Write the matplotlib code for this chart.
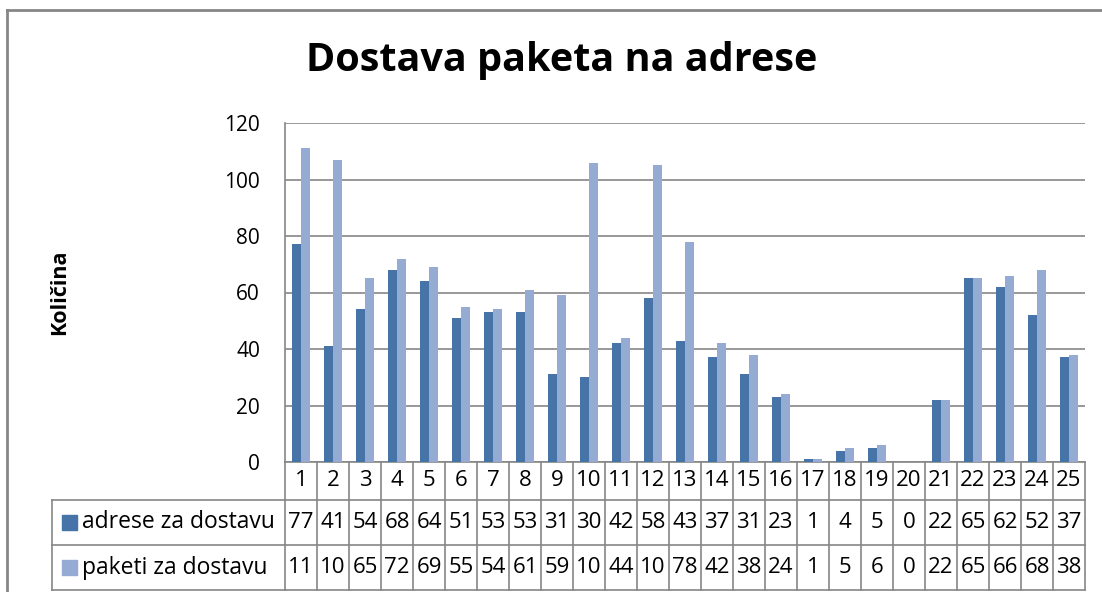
import matplotlib.pyplot as plt
import matplotlib.transforms as mtransforms
from matplotlib.patches import Rectangle
from matplotlib.lines import Line2D
import numpy as np

plt.rcParams['font.family'] = ['Open Sans', 'DejaVu Sans']

# data
categories = [str(i) for i in range(1, 26)]
adrese = [77, 41, 54, 68, 64, 51, 53, 53, 31, 30, 42, 58, 43, 37, 31, 23, 1, 4, 5, 0, 22, 65, 62, 52, 37]
paketi = [111, 107, 65, 72, 69, 55, 54, 61, 59, 106, 44, 105, 78, 42, 38, 24, 1, 5, 6, 0, 22, 65, 66, 68, 38]
series_names = ['adrese za dostavu', 'paketi za dostavu']
title = 'Dostava paketa na adrese'
ylabel = 'Količina'

dark = '#4673a8'
light = '#95abd3'
grid_col = '#868686'

fig = plt.figure(figsize=(11.02, 5.92), dpi=100)
W, H = 1102, 592

def fx(px):
    return px / W

def fy(py):
    return 1 - py / H

# outer chart frame (top and left edges)
fig.add_artist(Line2D([fx(7), fx(7)], [fy(10), 0], color=grid_col, lw=2))
fig.add_artist(Line2D([fx(7), 1], [fy(10), fy(10)], color=grid_col, lw=2))

left, right, top, bottom = 285, 1085, 123, 462
ax = fig.add_axes([fx(left), fy(bottom), fx(right - left), (bottom - top) / H])

x = np.arange(len(categories))
w = 0.29
ax.bar(x - w / 2, adrese, w, color=dark, zorder=3)
ax.bar(x + w / 2, paketi, w, color=light, zorder=3)

ax.set_xlim(-0.5, len(categories) - 0.5)
ax.set_ylim(0, 120)
ax.set_yticks(range(0, 121, 20))
ax.yaxis.grid(True, color=grid_col, lw=1.2, zorder=0)
ax.set_xticks([])
for s in ['top', 'right', 'bottom']:
    ax.spines[s].set_visible(False)
ax.spines['left'].set_color(grid_col)
ax.spines['left'].set_linewidth(1.2)
ax.tick_params(axis='y', length=0, labelsize=15, pad=18)

fig.text(fx(60), fy(292), ylabel, fontsize=15.5, fontweight='bold', rotation=90,
         ha='center', va='center')
fig.text(fx(562), fy(61), title, fontsize=28.5, fontweight='bold', ha='center', va='center')

# data table below the plot
trans = mtransforms.blended_transform_factory(ax.transData, ax.transAxes)
ph = bottom - top
r0 = 0.0
r1 = -(500 - bottom) / ph
r2 = -(545 - bottom) / ph
r3 = -(590 - bottom) / ph
n = len(categories)
tab_kw = dict(color=grid_col, lw=1.2, transform=trans, clip_on=False)

# horizontal lines
for r in [r0, r1, r2, r3]:
    ax.plot([-0.5, n - 0.5], [r, r], **tab_kw)
axtrans = ax.transAxes
label_x0 = (52 - left) / (right - left)
for r in [r1, r2, r3]:
    ax.plot([label_x0, 0], [r, r], color=grid_col, lw=1.2, transform=axtrans, clip_on=False)
ax.plot([label_x0, label_x0], [r1, r3], color=grid_col, lw=1.2, transform=axtrans, clip_on=False)

# vertical lines
for i in range(n + 1):
    ax.plot([i - 0.5, i - 0.5], [r0, r3], **tab_kw)

def cell(v):
    # the table cells cut three-digit numbers
    return str(v)[:2]

for i in range(n):
    ax.text(i, (r0 + r1) / 2, categories[i], transform=trans, ha='center', va='center', fontsize=16)
    ax.text(i, (r1 + r2) / 2, cell(adrese[i]), transform=trans, ha='center', va='center', fontsize=16)
    ax.text(i, (r2 + r3) / 2, cell(paketi[i]), transform=trans, ha='center', va='center', fontsize=16)

# legend keys in table rows
sq_w = 15 / (right - left)
sq_h = 15 / ph
for r_top, r_bot, name, c in [(r1, r2, series_names[0], dark), (r2, r3, series_names[1], light)]:
    yc = (r_top + r_bot) / 2
    sx = (62 - left) / (right - left)
    ax.add_patch(Rectangle((sx, yc - sq_h / 2), sq_w, sq_h, color=c, transform=axtrans, clip_on=False))
    ax.text((82 - left) / (right - left), yc, name, transform=axtrans, ha='left', va='center', fontsize=16.5)

fig.savefig('out.png', dpi=100)
